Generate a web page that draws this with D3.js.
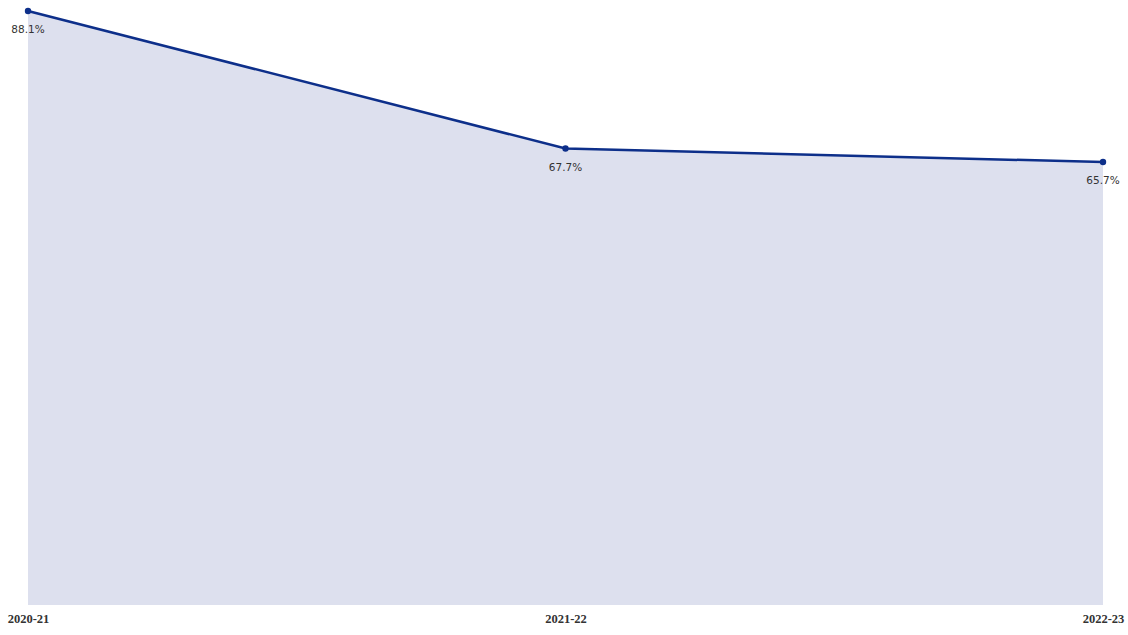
<!DOCTYPE html>
<html><head><meta charset="utf-8">
<script src="https://cdn.jsdelivr.net/npm/d3@7"></script>
<style>html,body{margin:0;padding:0;background:#fff;}</style>
</head><body>
<svg id="c" width="1128" height="635"></svg>
<script>
const categories = ["2020-21", "2021-22", "2022-23"];
const values = [88.1, 67.7, 65.7];
const labels = ["88.1%", "67.7%", "65.7%"];

const svg = d3.select("#c");
const x = d3.scalePoint().domain(categories).range([28, 1103]);
const y = d3.scaleLinear().domain([0, 88.1]).range([605, 11]);
const data = categories.map((c, i) => ({c, v: values[i], l: labels[i]}));

svg.append("path").datum(data)
  .attr("fill", "#dde0ee")
  .attr("d", d3.area().x(d => x(d.c)).y0(y(0)).y1(d => y(d.v)));

svg.append("path").datum(data)
  .attr("fill", "none").attr("stroke", "#0d2f8a").attr("stroke-width", 2.5)
  .attr("d", d3.line().x(d => x(d.c)).y(d => y(d.v)));

svg.selectAll("circle").data(data).join("circle")
  .attr("cx", d => x(d.c)).attr("cy", d => y(d.v)).attr("r", 3.2)
  .attr("fill", "#0d2f8a");

svg.selectAll("text.lbl").data(data).join("text").attr("class", "lbl")
  .attr("x", d => x(d.c)).attr("y", d => y(d.v) + 22)
  .attr("text-anchor", "middle")
  .attr("font-family", "DejaVu Sans, sans-serif").attr("font-size", 10.5)
  .attr("fill", "#333").text(d => d.l);

const axis = d3.axisBottom(x).tickSize(0).tickPadding(0);
const g = svg.append("g").attr("transform", "translate(0,614)").call(axis);
g.select(".domain").remove();
g.selectAll("text").attr("font-family", "Liberation Serif, Times New Roman, serif")
  .attr("font-size", 12.5).attr("font-weight", "bold").attr("fill", "#333");
</script>
</body></html>
